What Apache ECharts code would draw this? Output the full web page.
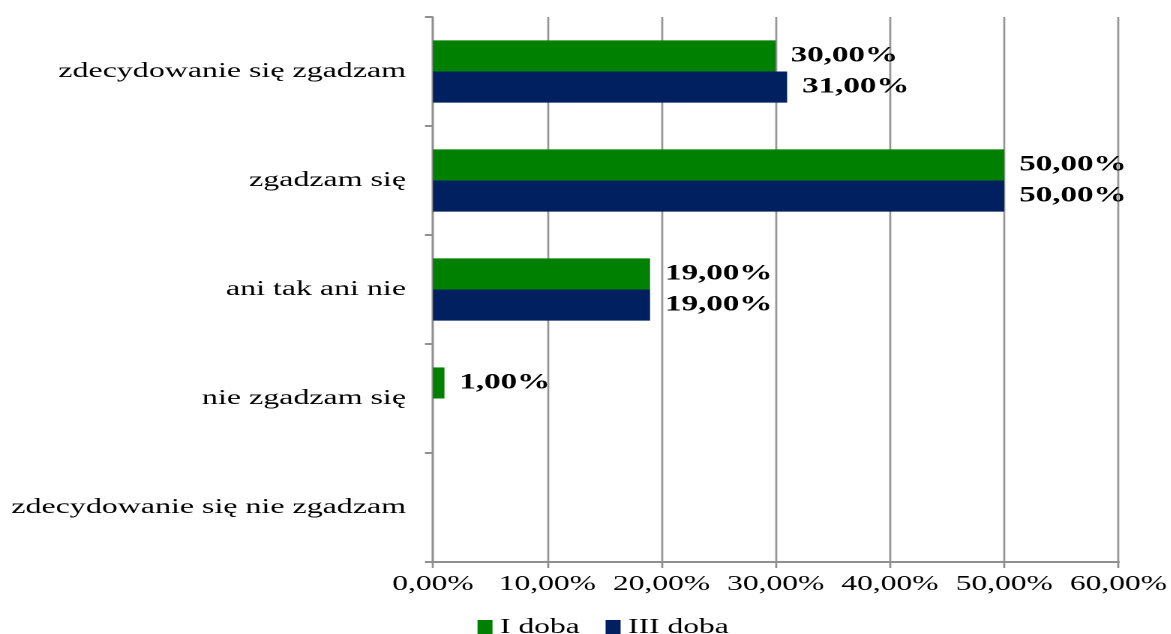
<!DOCTYPE html>
<html><head><meta charset="utf-8">
<script src="https://cdn.jsdelivr.net/npm/echarts@6/dist/echarts.min.js"></script>
<style>
html,body{margin:0;padding:0;background:#fff;overflow:hidden}
#wrap{width:1171px;height:634px;overflow:hidden}
#c{width:780.67px;height:634px;transform:scaleX(1.5);transform-origin:0 0}
</style>
</head><body><div id="wrap"><div id="c"></div></div>
<script>
const categories = ['zdecydowanie się nie zgadzam', 'nie zgadzam się', 'ani tak ani nie', 'zgadzam się', 'zdecydowanie się zgadzam'];
const seriesNames = ['I doba', 'III doba'];
const doba1 = [0, 1, 19, 50, 30];
const doba3 = [0, 0, 19, 50, 31];
const xTicks = [0, 10, 20, 30, 40, 50, 60];

const SX = 1.5; // horizontal stretch of the reference rendering
const fmt = v => v.toFixed(2).replace('.', ',') + '%';
const font = '"Liberation Serif", "Times New Roman", serif';
const chart = echarts.init(document.getElementById('c'), null, { devicePixelRatio: 2 });
const labelCfg = {
  show: true, position: 'right', distance: 15 / SX,
  color: '#000', fontFamily: font, fontWeight: 'bold', fontSize: 22,
  formatter: p => p.value === 0 ? '' : fmt(p.value)
};
const grey = '#8f8f8f';
chart.setOption({
  animation: false,
  backgroundColor: '#fff',
  grid: { left: 433 / SX, right: 50 / SX, top: 17, bottom: 72, containLabel: false },
  legend: {
    top: 612, left: 470 / SX, itemWidth: 15 / SX, itemHeight: 15, itemGap: 26 / SX,
    icon: 'rect',
    textStyle: { fontFamily: font, fontSize: 21, color: '#000', padding: [0, 0, 0, 0] },
    data: seriesNames
  },
  xAxis: {
    type: 'value', min: xTicks[0], max: xTicks[xTicks.length - 1], interval: 10,
    axisLine: { show: true, lineStyle: { color: grey, width: 2 } },
    axisTick: { show: true, length: 6, lineStyle: { color: grey, width: 2 / SX } },
    splitLine: { show: true, lineStyle: { color: '#969696', width: 2 / SX } },
    axisLabel: { formatter: v => fmt(v), fontFamily: font, fontSize: 21, color: '#000', margin: 12 }
  },
  yAxis: {
    type: 'category', data: categories,
    axisLine: { show: true, lineStyle: { color: grey, width: 2 / SX } },
    axisTick: { show: true, length: 8 / SX, lineStyle: { color: grey, width: 2 } },
    axisLabel: { fontFamily: font, fontSize: 21.3, color: '#000', margin: 27 / SX }
  },
  series: [
    { name: seriesNames[0], type: 'bar', data: doba1, itemStyle: { color: '#008000' },
      barGap: '0%', barCategoryGap: '43%', label: labelCfg },
    { name: seriesNames[1], type: 'bar', data: doba3, itemStyle: { color: '#002060' },
      barGap: '0%', barCategoryGap: '43%', label: labelCfg }
  ]
});
</script></body></html>
